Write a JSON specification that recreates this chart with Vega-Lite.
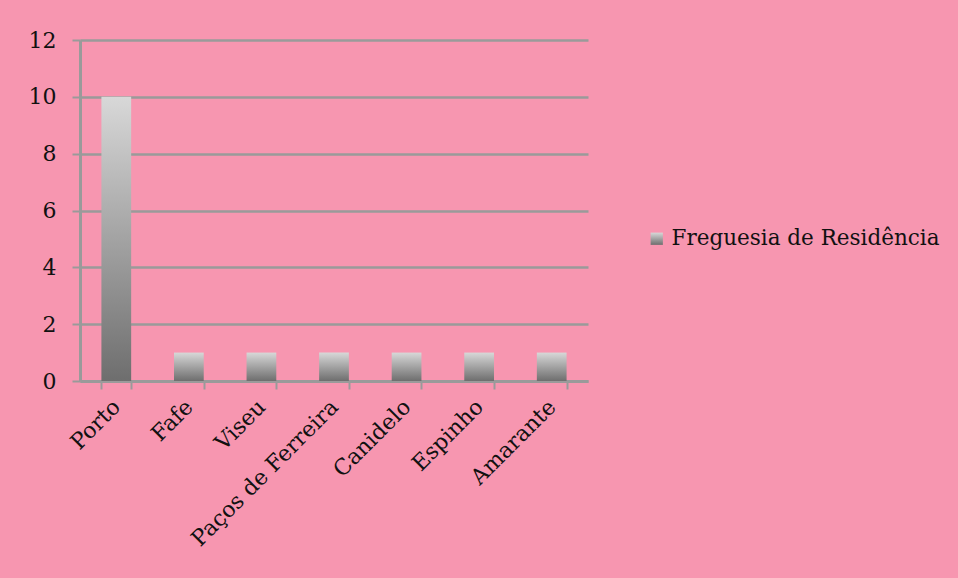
{
  "$schema": "https://vega.github.io/schema/vega-lite/v6.json",
  "width": 508,
  "height": 341,
  "autosize": {"type": "none"},
  "padding": {"left": 80, "top": 40, "right": 370, "bottom": 197},
  "background": "#F796B0",
  "config": {
    "view": {"stroke": null},
    "font": "DejaVu Serif"
  },
  "data": {
    "values": [
      {"cidade": "Porto", "valor": 10, "serie": "Freguesia de Residência"},
      {"cidade": "Fafe", "valor": 1, "serie": "Freguesia de Residência"},
      {"cidade": "Viseu", "valor": 1, "serie": "Freguesia de Residência"},
      {"cidade": "Paços de Ferreira", "valor": 1, "serie": "Freguesia de Residência"},
      {"cidade": "Canidelo", "valor": 1, "serie": "Freguesia de Residência"},
      {"cidade": "Espinho", "valor": 1, "serie": "Freguesia de Residência"},
      {"cidade": "Amarante", "valor": 1, "serie": "Freguesia de Residência"}
    ]
  },
  "mark": {
    "type": "bar",
    "color": {"gradient": "linear", "x1": 0, "y1": 0, "x2": 0, "y2": 1,
      "stops": [{"offset": 0, "color": "#D8D8D8"}, {"offset": 1, "color": "#6E6E6E"}]}
  },
  "encoding": {
    "x": {
      "field": "cidade",
      "type": "nominal",
      "sort": null,
      "title": null,
      "scale": {"paddingInner": 0.59, "paddingOuter": 0.295},
      "axis": {
        "tickBand": "extent",
        "labelAngle": -45,
        "labelAlign": "right",
        "labelBaseline": "middle",
        "labelFont": "DejaVu Serif",
        "labelFontSize": 22,
        "labelColor": "#111111",
        "labelPadding": 14,
        "labelLimit": 400,
        "domainColor": "#9A9A9A",
        "domainWidth": 3,
        "tickColor": "#9A9A9A",
        "tickWidth": 2,
        "tickSize": 8,
        "grid": false
      }
    },
    "y": {
      "field": "valor",
      "type": "quantitative",
      "title": null,
      "scale": {"domain": [0, 12]},
      "axis": {
        "values": [0, 2, 4, 6, 8, 10, 12],
        "labelFont": "DejaVu Serif",
        "labelFontSize": 22,
        "labelColor": "#111111",
        "labelPadding": 16,
        "domainColor": "#9A9A9A",
        "domainWidth": 3,
        "tickColor": "#9A9A9A",
        "tickWidth": 2,
        "tickSize": 8,
        "gridColor": "#9A9A9A",
        "gridWidth": 2.5
      }
    },
    "opacity": {
      "field": "serie",
      "type": "nominal",
      "scale": {"range": [1]},
      "legend": {
        "title": null,
        "orient": "none",
        "legendX": 566,
        "legendY": 188,
        "symbolType": "square",
        "symbolSize": 150,
        "symbolFillColor": "#A3A3A3",
        "symbolStrokeWidth": 0,
        "labelFont": "DejaVu Serif",
        "labelFontSize": 21.5,
        "labelColor": "#111111",
        "labelOffset": 4,
        "labelLimit": 400
      }
    }
  }
}
